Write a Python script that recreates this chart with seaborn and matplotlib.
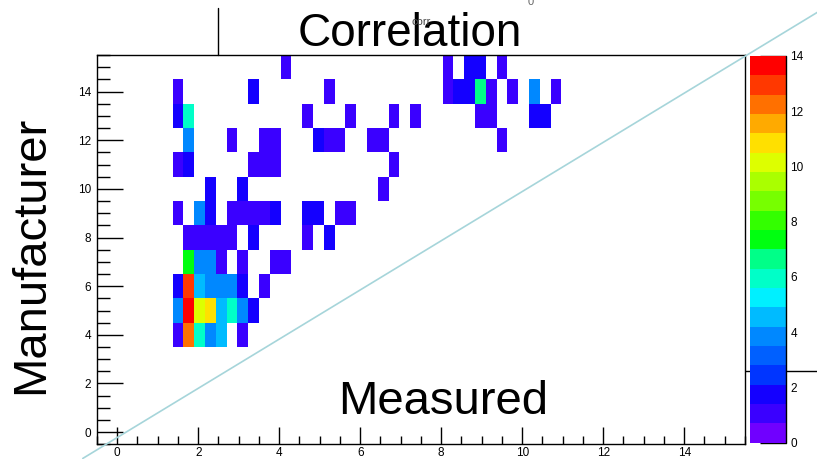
import numpy as np
import matplotlib
matplotlib.use("Agg")
import matplotlib.pyplot as plt
from matplotlib.colors import ListedColormap
from matplotlib.lines import Line2D
import seaborn as sns

# histogram binning (60 bins on x, 16 on y)
x_edges = np.linspace(-0.5, 15.5, 61)
y_edges = np.arange(-0.5, 16.0, 1.0)

# filled cells, listed row by row (manufacturer value, measured bin, content)
manu_row = [15, 15, 15, 15, 15,
            14, 14, 14, 14, 14, 14, 14, 14, 14, 14, 14,
            13, 13, 13, 13, 13, 13, 13, 13, 13, 13,
            12, 12, 12, 12, 12, 12, 12, 12, 12, 12,
            11, 11, 11, 11, 11, 11,
            10, 10, 10,
            9, 9, 9, 9, 9, 9, 9, 9, 9, 9, 9, 9,
            8, 8, 8, 8, 8, 8, 8, 8,
            7, 7, 7, 7, 7, 7, 7,
            6, 6, 6, 6, 6, 6, 6, 6,
            5, 5, 5, 5, 5, 5, 5, 5,
            4, 4, 4, 4, 4, 4]
meas_bin = [17, 32, 34, 35, 37,
            7, 14, 21, 32, 33, 34, 35, 36, 38, 40, 42,
            7, 8, 19, 23, 27, 29, 35, 36, 40, 41,
            8, 12, 15, 16, 20, 21, 22, 25, 26, 37,
            7, 8, 14, 15, 16, 27,
            10, 13, 26,
            7, 9, 10, 12, 13, 14, 15, 16, 19, 20, 22, 23,
            8, 9, 10, 11, 12, 14, 19, 21,
            8, 9, 10, 11, 13, 16, 17,
            7, 8, 9, 10, 11, 12, 13, 15,
            7, 8, 9, 10, 11, 12, 13, 14,
            7, 8, 9, 10, 11, 13]
counts = [1, 1, 2, 2, 1,
          1, 2, 1, 1, 2, 2, 6.5, 1, 1, 4, 1,
          2, 6, 1, 1, 1, 1, 1, 1, 2, 2,
          4, 1, 1, 1, 2, 1, 1, 1, 1, 1,
          1, 2, 1, 1, 1, 1,
          2, 2, 1,
          1, 4, 2, 1, 1, 1, 1, 2, 2, 2, 1, 1,
          1, 1, 1, 1, 1, 2, 1, 2,
          7.3, 4, 4, 1, 1, 1, 1,
          2, 13, 4.5, 4, 4, 4, 2, 1,
          4, 14, 10, 11, 4.5, 6, 4, 2,
          1, 12.2, 6, 4, 4.5, 1]

# reference diagonal (two end points)
diag_x = [-0.85, 17.3]
diag_y = [-1.08, 17.27]

# 20-step rainbow palette
palette = ['#7000ff', '#3a00ff', '#1400ff', '#0035ff', '#0060ff',
           '#0088ff', '#00bbff', '#00f0ff', '#00ffc8', '#00ff88',
           '#00ff10', '#33ff00', '#77ff00', '#aaff00', '#ddff00',
           '#ffe000', '#ffaa00', '#ff7000', '#ff3800', '#ff0000']
cmap = ListedColormap(palette)

centers = (x_edges[:-1] + x_edges[1:]) / 2
measured = centers[meas_bin]

sns.set_style("white")
plt.rcParams['font.family'] = ['Liberation Sans', 'DejaVu Sans']
plt.rcParams['text.color'] = 'black'
plt.rcParams['xtick.color'] = 'black'
plt.rcParams['ytick.color'] = 'black'

fig = plt.figure(figsize=(8.17, 4.59), dpi=100)
ax = fig.add_axes([0.1187, 0.032, 0.7931, 0.848])
cax = fig.add_axes([0.9174, 0.0355, 0.0447, 0.8425])

sns.histplot(x=measured, y=manu_row, weights=counts, bins=[x_edges, y_edges],
             cmap=cmap, vmin=0, vmax=14, cbar=False, ax=ax)
mesh = ax.collections[0]

ax.plot(diag_x, diag_y, color='#a6d5da', lw=1.2, clip_on=False, zorder=5)

ax.set_xlim(-0.5, 15.5)
ax.set_ylim(-0.5, 15.5)
ax.set_xlabel('')
ax.set_ylabel('')
ax.set_xticks(np.arange(0, 15, 2))
ax.set_yticks(np.arange(0, 15, 2))
ax.set_xticks(np.arange(-0.5, 15.6, 0.5), minor=True)
ax.set_yticks(np.arange(-0.5, 15.6, 0.5), minor=True)
ax.tick_params(bottom=True, left=True, top=False, right=False, which='both')
ax.tick_params(axis='x', which='major', direction='in', length=12, width=1, labelsize=8.5, pad=2)
ax.tick_params(axis='x', which='minor', direction='in', length=6, width=1)
ax.tick_params(axis='y', which='major', direction='in', length=19, width=1, labelsize=8.5, pad=4)
ax.tick_params(axis='y', which='minor', direction='in', length=9, width=1)
for sp in ax.spines.values():
    sp.set_color('black')
    sp.set_linewidth(1)

cb = fig.colorbar(mesh, cax=cax)
cb.outline.set_visible(False)
cb.set_ticks(np.arange(0, 15, 2))
cax.minorticks_off()
cax.tick_params(axis='y', which='major', direction='in', length=19, width=1,
                labelsize=8.5, pad=3, right=True, left=False,
                labelright=True, labelleft=False, color='black')
cax.plot([1, 1], [0, 1], transform=cax.transAxes, color='black', lw=1, clip_on=False)

# texts
fig.text(0.502, 0.8998, 'Correlation', fontsize=33, ha='center', va='baseline')
fig.text(0.515, 0.952, 'corr', fontsize=8, color='#444444', ha='center', va='center')
fig.text(0.649, 1 - 5 / 459, '0', fontsize=8, color='#666666', ha='center', va='baseline')
fig.text(0.542, 0.098, 'Measured', fontsize=34, ha='center', va='baseline')
fig.text(0.038, 0.444, 'Manufacturer', fontsize=34, rotation=90, ha='center', va='center')

# stray pad lines
fig.add_artist(Line2D([0.2668, 0.2668], [0.982, 0.880], color='black', lw=1))
fig.add_artist(Line2D([0.912, 1.0], [0.1917, 0.1917], color='black', lw=1, zorder=-1))

fig.savefig('out.png', dpi=100)
